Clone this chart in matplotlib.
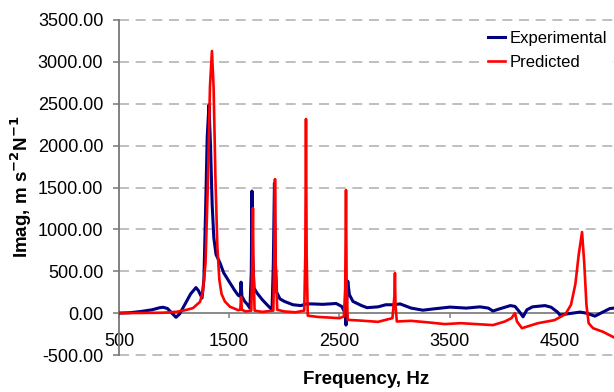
import matplotlib
matplotlib.use("Agg")
import matplotlib.pyplot as plt

# Experimental response (Hz, m s^-2 N^-1)
exp_freq = [500, 600, 700, 800, 870, 900, 940, 980, 1017, 1050, 1100, 1150, 1198, 1220, 1253,
            1270, 1285, 1300, 1316, 1330, 1345, 1360, 1380, 1416, 1450, 1507, 1550, 1580, 1600,
            1607, 1615, 1640, 1661, 1688, 1700, 1706, 1712, 1725, 1752, 1800, 1843, 1888, 1900,
            1910, 1918, 1930, 1960, 2000, 2078, 2150, 2196, 2250, 2350, 2470, 2520, 2552, 2559,
            2566, 2575, 2590, 2622, 2700, 2750, 2850, 2920, 2990, 3050, 3150, 3257, 3350, 3502,
            3650, 3774, 3850, 3892, 3950, 4050, 4092, 4130, 4165, 4200, 4250, 4364, 4420, 4480,
            4500, 4560, 4681, 4740, 4817, 4870, 4953, 4990]
exp_imag = [0, 5, 20, 40, 65, 70, 55, 0, -50, -10, 110, 230, 305, 270, 180,
            400, 1200, 2100, 2485, 2000, 1300, 900, 700, 600, 480, 360, 270, 215, 200,
            370, 200, 140, 110, 60, 500, 1458, 700, 300, 240, 160, 100, 40, 600,
            1553, 600, 250, 170, 140, 100, 90, 110, 110, 105, 115, 80, 0, -143,
            150, 382, 220, 140, 90, 65, 75, 100, 100, 110, 60, 35, 50, 72,
            60, 75, 60, 25, 50, 90, 80, 20, -44, 40, 75, 90, 70, 10,
            -24, -10, 12, 0, -36, 0, 55, 60]

# Predicted response
pred_freq = [500, 700, 900, 1026, 1100, 1171, 1235, 1260, 1285, 1305, 1325, 1343, 1358, 1375,
             1392, 1410, 1430, 1460, 1507, 1580, 1600, 1607, 1614, 1650, 1700, 1709, 1715, 1720,
             1730, 1800, 1900, 1909, 1915, 1921, 1935, 2000, 2100, 2180, 2190, 2196, 2202, 2212,
             2300, 2500, 2540, 2552, 2559, 2565, 2575, 2700, 2850, 2980, 2998, 3003, 3008, 3020,
             3148, 3300, 3456, 3600, 3892, 4000, 4060, 4092, 4110, 4155, 4300, 4450, 4550, 4600,
             4640, 4670, 4700, 4720, 4740, 4760, 4800, 4890, 4990]
pred_imag = [0, 2, 5, 16, 35, 60, 135, 250, 600, 1500, 2700, 3130, 2700, 1600,
             800, 400, 230, 140, 76, 36, 40, 190, 40, 20, 30, 600, 1254, 500,
             30, 15, 30, 700, 1600, 600, 40, 20, 10, 30, 700, 2318, 700, -30,
             -45, -60, -40, 300, 1470, 300, -80, -90, -104, -60, 200, 478, 100, -100,
             -92, -110, -131, -120, -143, -100, -60, 0, -100, -180, -120, -84, -12, 100,
             350, 700, 968, 600, 100, -120, -180, -223, -290]

y_ticks = [-500, 0, 500, 1000, 1500, 2000, 2500, 3000, 3500]
x_ticks = [500, 1500, 2500, 3500, 4500]

plt.rcParams["font.family"] = ["Liberation Sans", "DejaVu Sans"]

fig = plt.figure(figsize=(6.14, 3.92), dpi=100)
ax = fig.add_axes([119 / 614, 1 - 355 / 392, 1 - 119 / 614, (355 - 20) / 392])

ax.plot(exp_freq, exp_imag, color="#000080", lw=2.2, label="Experimental", zorder=3)
ax.plot(pred_freq, pred_imag, color="#ff0000", lw=1.9, label="Predicted", zorder=4)

ax.set_xlim(500, 4990)
ax.set_ylim(-500, 3500)
ax.set_yticks(y_ticks)
ax.set_yticklabels([f"{v:.2f}" for v in y_ticks])
ax.set_xticks(x_ticks)
ax.set_xticklabels([str(v) for v in x_ticks])

for v in y_ticks:
    if v != 0:
        ax.axhline(v, color="#b4b4b4", lw=1.2, ls=(0, (6, 4)), zorder=1, clip_on=False)

for s in ["top", "right"]:
    ax.spines[s].set_visible(False)
ax.spines["bottom"].set_position(("data", 0))
ax.spines["left"].set_color("#777777")
ax.spines["bottom"].set_color("#808080")
ax.spines["left"].set_linewidth(1.3)
ax.spines["bottom"].set_linewidth(1.3)
ax.spines["bottom"].set_zorder(2)

ax.tick_params(axis="y", direction="out", length=4.3, width=1.1, color="#777777",
               labelsize=13, pad=7)
ax.tick_params(axis="x", direction="out", length=3.6, width=1.1, color="#808080",
               labelsize=13, pad=11)

fig.text(21 / 614, 1 - 187 / 392, "Imag, m s$^{\\mathbf{-2}}$N$^{\\mathbf{-1}}$",
         rotation=90, ha="center", va="center", fontsize=13.5, fontweight="bold")
fig.text(366 / 614, 1 - 380 / 392, "Frequency, Hz", ha="center", va="center",
         fontsize=13.5, fontweight="bold")

leg = ax.legend(loc="upper left", bbox_to_anchor=(483 / 614, 1 - 26 / 392),
                bbox_transform=fig.transFigure, frameon=True, fancybox=False,
                facecolor="white", edgecolor="none", framealpha=1, fontsize=12,
                handlelength=1.0, handletextpad=0.3, labelspacing=0.55,
                borderpad=0.3, borderaxespad=0)
leg.set_zorder(5)

fig.savefig("out.png", dpi=100)
